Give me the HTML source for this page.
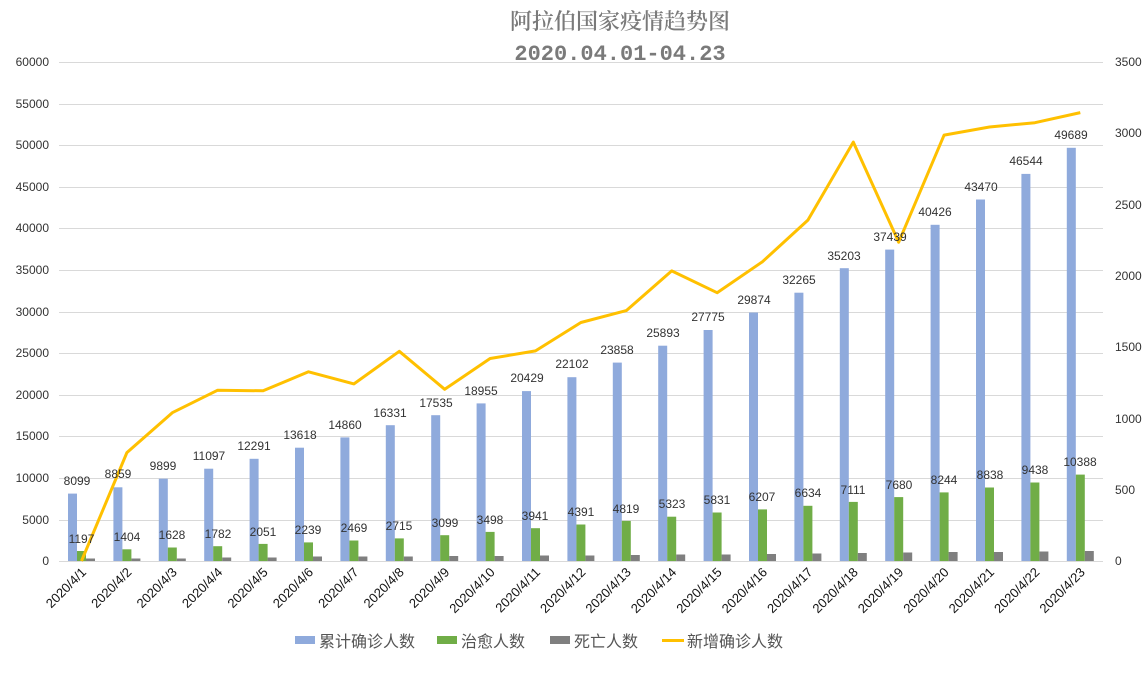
<!DOCTYPE html>
<html><head><meta charset="utf-8"><style>
body{margin:0;background:#fff}
text{font-family:"Liberation Sans","Noto Sans CJK SC",sans-serif}
</style></head><body>
<svg width="1146" height="669" xmlns="http://www.w3.org/2000/svg">
<rect width="1146" height="669" fill="#fff"/>
<g font-size="22" fill="#7a7a7a" text-anchor="middle">
<text x="620" y="29" style="font-family:'Noto Serif CJK SC',serif;font-weight:600">阿拉伯国家疫情趋势图</text>
<text x="620" y="60" style="font-family:'Liberation Mono',monospace;font-weight:bold">2020.04.01-04.23</text>
</g>
<g stroke="#d9d9d9" stroke-width="1">
<line x1="59" x2="1103" y1="62.5" y2="62.5"/><line x1="59" x2="1103" y1="104.5" y2="104.5"/><line x1="59" x2="1103" y1="145.5" y2="145.5"/><line x1="59" x2="1103" y1="187.5" y2="187.5"/><line x1="59" x2="1103" y1="228.5" y2="228.5"/><line x1="59" x2="1103" y1="270.5" y2="270.5"/><line x1="59" x2="1103" y1="312.5" y2="312.5"/><line x1="59" x2="1103" y1="353.5" y2="353.5"/><line x1="59" x2="1103" y1="395.5" y2="395.5"/><line x1="59" x2="1103" y1="436.5" y2="436.5"/><line x1="59" x2="1103" y1="478.5" y2="478.5"/><line x1="59" x2="1103" y1="520.5" y2="520.5"/><line x1="59" x2="1103" y1="561.5" y2="561.5"/>
</g>
<g font-size="12" fill="#333" text-anchor="end">
<text x="49" y="66">60000</text><text x="49" y="108">55000</text><text x="49" y="149">50000</text><text x="49" y="191">45000</text><text x="49" y="232">40000</text><text x="49" y="274">35000</text><text x="49" y="316">30000</text><text x="49" y="357">25000</text><text x="49" y="399">20000</text><text x="49" y="440">15000</text><text x="49" y="482">10000</text><text x="49" y="524">5000</text><text x="49" y="565">0</text>
</g>
<g font-size="12" fill="#333">
<text x="1115" y="66">3500</text><text x="1115" y="137">3000</text><text x="1115" y="209">2500</text><text x="1115" y="280">2000</text><text x="1115" y="351">1500</text><text x="1115" y="423">1000</text><text x="1115" y="494">500</text><text x="1115" y="565">0</text>
</g>
<g fill="#8faadc">
<rect x="68" y="493.6" width="9" height="67.4"/><rect x="113.4" y="487.3" width="9" height="73.7"/><rect x="158.8" y="478.7" width="9" height="82.3"/><rect x="204.2" y="468.7" width="9" height="92.3"/><rect x="249.6" y="458.8" width="9" height="102.2"/><rect x="295" y="447.7" width="9" height="113.3"/><rect x="340.4" y="437.4" width="9" height="123.6"/><rect x="385.8" y="425.2" width="9" height="135.8"/><rect x="431.2" y="415.2" width="9" height="145.8"/><rect x="476.6" y="403.4" width="9" height="157.6"/><rect x="522" y="391.1" width="9" height="169.9"/><rect x="567.4" y="377.2" width="9" height="183.8"/><rect x="612.8" y="362.6" width="9" height="198.4"/><rect x="658.2" y="345.7" width="9" height="215.3"/><rect x="703.6" y="330" width="9" height="231"/><rect x="749" y="312.5" width="9" height="248.5"/><rect x="794.4" y="292.7" width="9" height="268.3"/><rect x="839.8" y="268.2" width="9" height="292.8"/><rect x="885.2" y="249.6" width="9" height="311.4"/><rect x="930.6" y="224.8" width="9" height="336.2"/><rect x="976" y="199.5" width="9" height="361.5"/><rect x="1021.4" y="173.9" width="9" height="387.1"/><rect x="1066.8" y="147.8" width="9" height="413.2"/>
</g>
<g fill="#70ad47">
<rect x="77" y="551" width="9" height="10"/><rect x="122.4" y="549.3" width="9" height="11.7"/><rect x="167.8" y="547.5" width="9" height="13.5"/><rect x="213.2" y="546.2" width="9" height="14.8"/><rect x="258.6" y="543.9" width="9" height="17.1"/><rect x="304" y="542.4" width="9" height="18.6"/><rect x="349.4" y="540.5" width="9" height="20.5"/><rect x="394.8" y="538.4" width="9" height="22.6"/><rect x="440.2" y="535.2" width="9" height="25.8"/><rect x="485.6" y="531.9" width="9" height="29.1"/><rect x="531" y="528.2" width="9" height="32.8"/><rect x="576.4" y="524.5" width="9" height="36.5"/><rect x="621.8" y="520.9" width="9" height="40.1"/><rect x="667.2" y="516.7" width="9" height="44.3"/><rect x="712.6" y="512.5" width="9" height="48.5"/><rect x="758" y="509.4" width="9" height="51.6"/><rect x="803.4" y="505.8" width="9" height="55.2"/><rect x="848.8" y="501.9" width="9" height="59.1"/><rect x="894.2" y="497.1" width="9" height="63.9"/><rect x="939.6" y="492.4" width="9" height="68.6"/><rect x="985" y="487.5" width="9" height="73.5"/><rect x="1030.4" y="482.5" width="9" height="78.5"/><rect x="1075.8" y="474.6" width="9" height="86.4"/>
</g>
<g fill="#7f7f7f">
<rect x="86" y="558.5" width="9" height="2.5"/><rect x="131.4" y="558.5" width="9" height="2.5"/><rect x="176.8" y="558.5" width="9" height="2.5"/><rect x="222.2" y="557.5" width="9" height="3.5"/><rect x="267.6" y="557.5" width="9" height="3.5"/><rect x="313" y="556.5" width="9" height="4.5"/><rect x="358.4" y="556.5" width="9" height="4.5"/><rect x="403.8" y="556.5" width="9" height="4.5"/><rect x="449.2" y="556" width="9" height="5"/><rect x="494.6" y="556" width="9" height="5"/><rect x="540" y="555.5" width="9" height="5.5"/><rect x="585.4" y="555.5" width="9" height="5.5"/><rect x="630.8" y="555" width="9" height="6"/><rect x="676.2" y="554.5" width="9" height="6.5"/><rect x="721.6" y="554.5" width="9" height="6.5"/><rect x="767" y="554" width="9" height="7"/><rect x="812.4" y="553.5" width="9" height="7.5"/><rect x="857.8" y="553" width="9" height="8"/><rect x="903.2" y="552.5" width="9" height="8.5"/><rect x="948.6" y="552" width="9" height="9"/><rect x="994" y="552" width="9" height="9"/><rect x="1039.4" y="551.5" width="9" height="9.5"/><rect x="1084.8" y="551" width="9" height="10"/>
</g>
<polyline fill="none" stroke="#ffc000" stroke-width="3" stroke-linejoin="round" points="81.5,561 126.9,452.6 172.3,412.7 217.7,390.2 263.1,390.8 308.5,371.8 353.9,383.9 399.3,351.3 444.7,389.3 490.1,358.5 535.5,350.9 580.9,322.5 626.3,310.6 671.7,270.9 717.1,292.7 762.5,261.7 807.9,220.1 853.3,142.1 898.7,242.2 944.1,135.1 989.5,127 1034.9,122.7 1080.3,112.6"/>
<g font-size="12" fill="#333" text-anchor="middle">
<text x="77" y="485">8099</text><text x="118" y="478">8859</text><text x="163" y="470">9899</text><text x="209" y="460">11097</text><text x="254" y="450">12291</text><text x="300" y="439">13618</text><text x="345" y="429">14860</text><text x="390" y="417">16331</text><text x="436" y="407">17535</text><text x="481" y="395">18955</text><text x="527" y="382">20429</text><text x="572" y="368">22102</text><text x="617" y="354">23858</text><text x="663" y="337">25893</text><text x="708" y="321">27775</text><text x="754" y="304">29874</text><text x="799" y="284">32265</text><text x="844" y="260">35203</text><text x="890" y="241">37439</text><text x="935" y="216">40426</text><text x="981" y="191">43470</text><text x="1026" y="165">46544</text><text x="1071" y="139">49689</text>
<text x="81.5" y="543">1197</text><text x="127" y="541">1404</text><text x="172" y="539">1628</text><text x="218" y="538">1782</text><text x="263" y="536">2051</text><text x="308" y="534">2239</text><text x="354" y="532">2469</text><text x="399" y="530">2715</text><text x="445" y="527">3099</text><text x="490" y="524">3498</text><text x="535" y="520">3941</text><text x="581" y="516">4391</text><text x="626" y="513">4819</text><text x="672" y="508">5323</text><text x="717" y="504">5831</text><text x="762" y="501">6207</text><text x="808" y="497">6634</text><text x="853" y="494">7111</text><text x="899" y="489">7680</text><text x="944" y="484">8244</text><text x="990" y="479">8838</text><text x="1035" y="474">9438</text><text x="1080" y="466">10388</text>
</g>
<g font-size="13" fill="#111" text-anchor="end">
<text transform="translate(87,573) rotate(-45)">2020/4/1</text><text transform="translate(132.4,573) rotate(-45)">2020/4/2</text><text transform="translate(177.8,573) rotate(-45)">2020/4/3</text><text transform="translate(223.2,573) rotate(-45)">2020/4/4</text><text transform="translate(268.6,573) rotate(-45)">2020/4/5</text><text transform="translate(314,573) rotate(-45)">2020/4/6</text><text transform="translate(359.4,573) rotate(-45)">2020/4/7</text><text transform="translate(404.8,573) rotate(-45)">2020/4/8</text><text transform="translate(450.2,573) rotate(-45)">2020/4/9</text><text transform="translate(495.6,573) rotate(-45)">2020/4/10</text><text transform="translate(541,573) rotate(-45)">2020/4/11</text><text transform="translate(586.4,573) rotate(-45)">2020/4/12</text><text transform="translate(631.8,573) rotate(-45)">2020/4/13</text><text transform="translate(677.2,573) rotate(-45)">2020/4/14</text><text transform="translate(722.6,573) rotate(-45)">2020/4/15</text><text transform="translate(768,573) rotate(-45)">2020/4/16</text><text transform="translate(813.4,573) rotate(-45)">2020/4/17</text><text transform="translate(858.8,573) rotate(-45)">2020/4/18</text><text transform="translate(904.2,573) rotate(-45)">2020/4/19</text><text transform="translate(949.6,573) rotate(-45)">2020/4/20</text><text transform="translate(995,573) rotate(-45)">2020/4/21</text><text transform="translate(1040.4,573) rotate(-45)">2020/4/22</text><text transform="translate(1085.8,573) rotate(-45)">2020/4/23</text>
</g>
<g font-size="16" fill="#555">
<rect x="295" y="636" width="20" height="8" fill="#8faadc"/><text x="319" y="647">累计确诊人数</text>
<rect x="437" y="636" width="20" height="8" fill="#70ad47"/><text x="461" y="647">治愈人数</text>
<rect x="550" y="636" width="20" height="8" fill="#7f7f7f"/><text x="574" y="647">死亡人数</text>
<rect x="662" y="639" width="22" height="3" fill="#ffc000"/><text x="687" y="647">新增确诊人数</text>
</g>
</svg>
</body></html>
